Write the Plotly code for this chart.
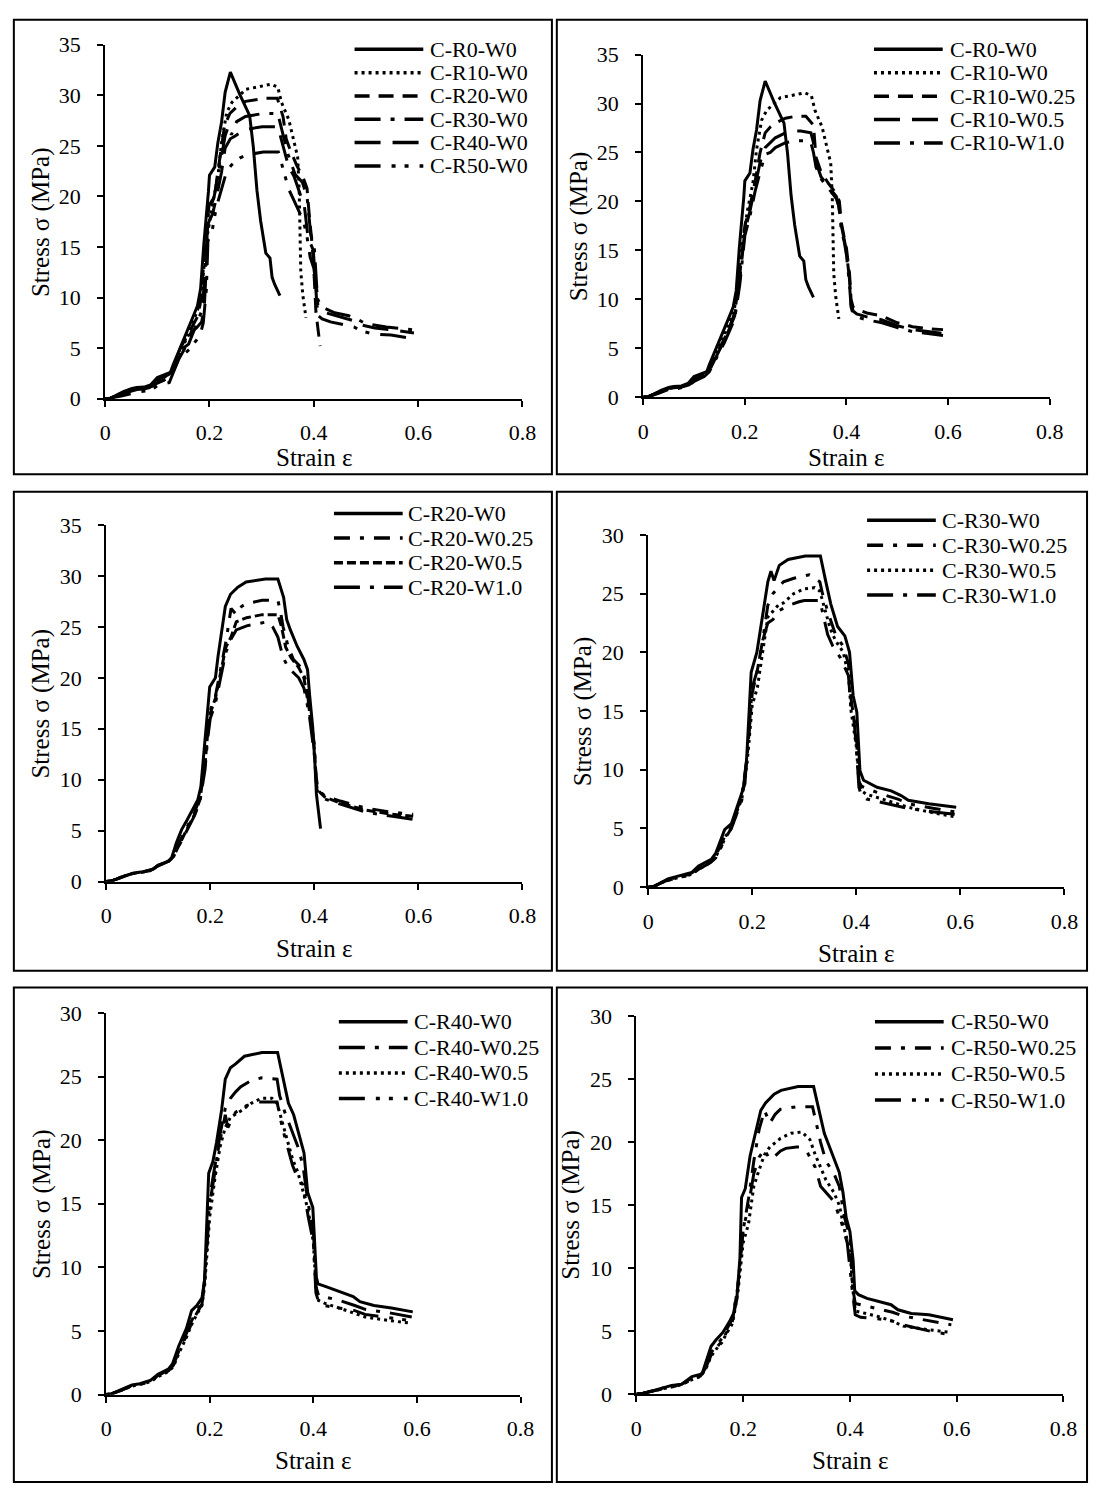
import plotly.graph_objects as go

# ---------------- data (strain, stress MPa) ----------------
R0_W0 = [(0,0),(0.01,0.05),(0.02,0.3),(0.035,0.7),(0.05,1.0),(0.06,1.1),(0.075,1.15),(0.088,1.4),(0.1,2.1),(0.115,2.4),(0.125,2.6),(0.13,3.3),(0.14,4.6),(0.15,5.9),(0.16,7.0),(0.17,8.3),(0.177,9.2),(0.183,10.9),(0.189,15.2),(0.195,18.5),(0.198,20.5),(0.2,22.1),(0.21,22.9),(0.216,25.3),(0.223,27.3),(0.23,30.3),(0.237,31.6),(0.24,32.3),(0.258,30.1),(0.277,28.0),(0.284,24.9),(0.291,20.6),(0.298,17.6),(0.308,14.4),(0.316,13.9),(0.32,12.0),(0.325,11.3),(0.335,10.2)]

R10_W0 = [(0,0),(0.01,0.05),(0.03,0.5),(0.05,0.9),(0.07,1.0),(0.09,1.3),(0.1,1.8),(0.12,2.3),(0.13,2.9),(0.14,4.2),(0.15,5.3),(0.16,6.4),(0.17,7.8),(0.18,9.2),(0.188,12.3),(0.196,16.2),(0.206,19.3),(0.216,21.9),(0.223,25.3),(0.233,28.3),(0.243,29.3),(0.257,30.0),(0.27,30.6),(0.29,30.8),(0.318,31.1),(0.331,30.8),(0.338,29.3),(0.352,27.6),(0.362,25.3),(0.369,23.9),(0.372,20.6),(0.373,15.9),(0.375,12.6),(0.379,10.2),(0.385,8.0)]

R10_W025 = [(0,0),(0.01,0.05),(0.03,0.5),(0.05,0.9),(0.07,1.0),(0.09,1.3),(0.1,1.8),(0.12,2.3),(0.13,2.8),(0.14,4.0),(0.15,5.0),(0.16,6.0),(0.17,7.2),(0.18,8.6),(0.19,12.5),(0.2,17.5),(0.21,19.5),(0.22,22.0),(0.23,25.0),(0.24,27.0),(0.25,27.6),(0.26,28.0),(0.28,28.5),(0.3,28.7),(0.32,28.7),(0.335,27.8),(0.34,24.5),(0.35,23.0),(0.365,21.8),(0.38,20.8),(0.386,20.0),(0.39,17.8),(0.396,16.2),(0.4,15.2),(0.406,12.6),(0.409,10.0),(0.413,9.2),(0.42,9.0),(0.44,8.6),(0.47,8.3),(0.5,7.6),(0.53,7.2),(0.56,7.0),(0.59,6.9)]

R10_W05 = [(0,0),(0.01,0.05),(0.03,0.45),(0.05,0.85),(0.07,0.95),(0.09,1.25),(0.1,1.7),(0.12,2.2),(0.13,2.7),(0.14,3.8),(0.15,4.8),(0.16,5.8),(0.17,7.0),(0.18,8.3),(0.19,12.0),(0.2,17.0),(0.21,19.0),(0.22,21.5),(0.23,24.0),(0.24,25.5),(0.26,26.5),(0.28,27.0),(0.3,27.2),(0.31,27.2),(0.33,27.0),(0.335,26.0),(0.34,24.0),(0.35,22.5),(0.365,21.5),(0.38,20.5),(0.385,19.5),(0.39,17.5),(0.396,16.0),(0.4,14.8),(0.406,12.0),(0.409,9.5),(0.413,8.8),(0.42,8.5),(0.44,8.2),(0.47,7.9),(0.5,7.3),(0.53,6.9),(0.56,6.7),(0.59,6.5)]

R10_W10 = [(0,0),(0.01,0.05),(0.03,0.4),(0.05,0.8),(0.07,0.9),(0.09,1.2),(0.1,1.6),(0.12,2.1),(0.13,2.6),(0.14,3.6),(0.15,4.6),(0.16,5.6),(0.17,6.8),(0.18,8.0),(0.19,11.5),(0.2,16.5),(0.21,18.5),(0.22,21.0),(0.23,23.0),(0.24,24.8),(0.25,25.0),(0.26,25.5),(0.28,26.0),(0.3,26.2),(0.32,26.2),(0.33,26.0),(0.335,25.0),(0.34,23.5),(0.35,22.3),(0.365,21.3),(0.38,20.3),(0.385,19.5),(0.39,17.0),(0.396,15.8),(0.4,14.5),(0.406,11.5),(0.409,9.2),(0.413,8.5),(0.42,8.2),(0.44,7.9),(0.47,7.6),(0.5,7.1),(0.53,6.7),(0.56,6.5),(0.59,6.3)]

R20_W0 = [(0,0),(0.01,0.05),(0.037,0.58),(0.061,0.9),(0.084,1.06),(0.098,1.5),(0.116,1.9),(0.125,2.2),(0.135,3.8),(0.145,5.1),(0.155,6.0),(0.165,7.0),(0.176,8.0),(0.182,9.3),(0.19,13.8),(0.195,16.7),(0.199,19.1),(0.21,20.0),(0.215,22.1),(0.229,27.0),(0.239,28.2),(0.253,28.9),(0.269,29.4),(0.306,29.7),(0.33,29.7),(0.341,27.9),(0.347,25.7),(0.354,24.7),(0.367,23.1),(0.38,21.8),(0.387,20.8),(0.391,18.3),(0.397,15.1),(0.401,11.8),(0.404,8.6),(0.412,5.2)]

R20_W025 = [(0,0),(0.01,0.05),(0.03,0.45),(0.05,0.8),(0.07,0.95),(0.09,1.2),(0.1,1.6),(0.12,2.0),(0.13,2.6),(0.14,3.8),(0.15,4.8),(0.16,5.8),(0.17,6.8),(0.18,8.2),(0.19,12.0),(0.195,15.0),(0.2,16.8),(0.21,18.2),(0.22,20.8),(0.23,23.5),(0.24,26.8),(0.25,26.2),(0.26,27.0),(0.27,27.3),(0.3,27.6),(0.33,27.6),(0.335,26.5),(0.34,25.0),(0.35,23.0),(0.36,21.8),(0.375,21.0),(0.385,19.5),(0.39,17.0),(0.395,15.0),(0.4,13.5),(0.403,10.5),(0.407,9.0),(0.41,8.9),(0.42,8.4),(0.45,7.9),(0.47,7.6),(0.5,7.2),(0.55,6.8),(0.59,6.6)]

R20_W05 = [(0,0),(0.01,0.05),(0.03,0.45),(0.05,0.8),(0.07,0.95),(0.09,1.2),(0.1,1.6),(0.12,2.0),(0.13,2.5),(0.14,3.6),(0.15,4.6),(0.16,5.6),(0.17,6.6),(0.18,8.0),(0.19,11.5),(0.195,14.5),(0.2,16.5),(0.21,18.0),(0.22,20.5),(0.23,23.0),(0.24,24.0),(0.25,25.5),(0.27,25.9),(0.3,26.2),(0.33,26.2),(0.337,25.0),(0.345,23.0),(0.355,22.0),(0.37,21.0),(0.38,20.0),(0.39,17.0),(0.4,13.0),(0.405,9.0),(0.41,8.8),(0.42,8.3),(0.45,7.7),(0.5,7.0),(0.55,6.6),(0.59,6.4)]

R20_W10 = [(0,0),(0.01,0.05),(0.03,0.4),(0.05,0.8),(0.07,0.9),(0.09,1.2),(0.1,1.6),(0.12,2.0),(0.13,2.5),(0.14,3.5),(0.15,4.5),(0.16,5.4),(0.17,6.5),(0.18,7.8),(0.19,11.0),(0.195,14.0),(0.2,16.0),(0.21,17.5),(0.22,20.0),(0.23,22.5),(0.24,23.8),(0.25,24.7),(0.27,25.1),(0.3,25.4),(0.31,25.5),(0.32,25.0),(0.33,24.0),(0.34,22.0),(0.35,21.0),(0.36,20.5),(0.37,20.0),(0.38,19.0),(0.39,16.5),(0.4,12.5),(0.405,9.0),(0.41,8.5),(0.42,8.1),(0.45,7.6),(0.5,6.8),(0.55,6.4),(0.59,6.1)]

R30_W0 = [(0,0),(0.011,0.05),(0.038,0.7),(0.064,0.98),(0.084,1.26),(0.097,1.8),(0.122,2.4),(0.13,2.9),(0.147,4.9),(0.16,5.4),(0.173,7.1),(0.182,8.2),(0.186,8.8),(0.19,11.5),(0.194,14.5),(0.198,18.3),(0.209,20.0),(0.219,22.7),(0.23,26.0),(0.236,26.9),(0.242,26.1),(0.252,27.4),(0.269,27.9),(0.302,28.2),(0.331,28.2),(0.341,26.1),(0.351,24.1),(0.364,22.2),(0.378,21.4),(0.387,20.0),(0.394,16.3),(0.401,14.9),(0.407,9.9),(0.414,9.1),(0.427,8.8),(0.44,8.5),(0.467,8.2),(0.486,7.8),(0.5,7.4),(0.539,7.1),(0.592,6.8)]

R30_W025 = [(0,0),(0.01,0.05),(0.035,0.6),(0.06,0.9),(0.08,1.1),(0.1,1.7),(0.12,2.2),(0.13,2.7),(0.14,3.6),(0.15,4.6),(0.16,5.2),(0.17,6.6),(0.18,7.8),(0.19,11.0),(0.2,16.5),(0.21,18.5),(0.22,21.0),(0.23,24.0),(0.24,25.0),(0.25,25.5),(0.26,26.0),(0.28,26.3),(0.31,26.6),(0.33,26.0),(0.335,25.0),(0.345,23.5),(0.36,21.5),(0.375,20.5),(0.385,19.0),(0.39,16.0),(0.395,14.5),(0.4,13.0),(0.405,9.0),(0.41,8.6),(0.42,8.4),(0.45,7.9),(0.48,7.5),(0.5,7.1),(0.55,6.7),(0.59,6.4)]

R30_W05 = [(0,0),(0.01,0.05),(0.035,0.55),(0.06,0.85),(0.08,1.05),(0.1,1.6),(0.12,2.1),(0.13,2.6),(0.14,3.4),(0.15,4.4),(0.16,5.0),(0.17,6.4),(0.18,7.5),(0.19,10.5),(0.2,15.5),(0.21,17.0),(0.22,20.0),(0.23,23.0),(0.24,23.5),(0.25,24.0),(0.26,24.2),(0.28,25.0),(0.3,25.4),(0.32,25.5),(0.33,25.2),(0.34,23.5),(0.35,22.0),(0.36,21.0),(0.375,20.0),(0.385,18.0),(0.39,15.0),(0.4,12.0),(0.405,9.0),(0.41,8.2),(0.42,7.9),(0.45,7.5),(0.48,7.1),(0.5,6.8),(0.55,6.3),(0.59,6.0)]

R30_W10 = [(0,0),(0.01,0.05),(0.035,0.55),(0.06,0.85),(0.08,1.0),(0.1,1.6),(0.12,2.1),(0.13,2.5),(0.14,3.4),(0.15,4.3),(0.16,5.0),(0.17,6.3),(0.18,7.4),(0.19,11.0),(0.2,17.0),(0.21,18.5),(0.22,21.0),(0.23,22.5),(0.24,22.8),(0.25,23.5),(0.27,24.0),(0.29,24.3),(0.3,24.4),(0.33,24.4),(0.335,23.5),(0.345,21.5),(0.355,20.5),(0.37,19.5),(0.385,18.0),(0.39,15.0),(0.395,14.5),(0.4,12.0),(0.405,8.5),(0.41,7.8),(0.42,7.5),(0.45,7.2),(0.48,6.9),(0.5,6.7),(0.55,6.4),(0.59,6.2)]

R40_W0 = [(0,0),(0.01,0.05),(0.03,0.4),(0.05,0.75),(0.065,0.85),(0.085,1.1),(0.1,1.6),(0.12,2.0),(0.128,2.4),(0.14,3.8),(0.155,5.2),(0.165,6.6),(0.175,7.0),(0.185,7.6),(0.19,9.0),(0.193,12.8),(0.198,17.4),(0.206,18.3),(0.213,19.8),(0.223,22.4),(0.23,24.8),(0.24,25.7),(0.25,26.0),(0.267,26.6),(0.301,26.9),(0.331,26.9),(0.341,25.0),(0.352,22.9),(0.362,22.0),(0.372,20.6),(0.382,19.0),(0.389,15.9),(0.399,14.7),(0.406,9.2),(0.409,8.7),(0.423,8.5),(0.443,8.2),(0.463,7.9),(0.477,7.7),(0.49,7.3),(0.517,7.0),(0.551,6.8),(0.592,6.5)]

R40_W025 = [(0,0),(0.01,0.05),(0.03,0.35),(0.05,0.7),(0.065,0.8),(0.085,1.05),(0.1,1.5),(0.12,1.9),(0.13,2.4),(0.14,3.5),(0.155,4.8),(0.165,5.8),(0.175,6.6),(0.185,7.2),(0.19,9.0),(0.2,15.0),(0.21,17.5),(0.22,20.5),(0.23,22.5),(0.24,23.3),(0.25,23.8),(0.26,24.2),(0.28,24.7),(0.3,24.9),(0.33,24.8),(0.335,23.5),(0.345,22.2),(0.36,20.5),(0.37,19.5),(0.38,18.0),(0.39,15.0),(0.4,13.0),(0.405,8.5),(0.41,7.8),(0.42,7.7),(0.45,7.4),(0.48,7.0),(0.5,6.7),(0.55,6.4),(0.59,6.1)]

R40_W05 = [(0,0),(0.01,0.05),(0.03,0.35),(0.05,0.65),(0.065,0.8),(0.085,1.0),(0.1,1.4),(0.12,1.8),(0.13,2.2),(0.14,3.2),(0.155,4.5),(0.165,5.5),(0.175,6.3),(0.185,7.0),(0.19,8.5),(0.2,14.0),(0.21,17.0),(0.22,19.5),(0.23,21.0),(0.24,21.8),(0.26,22.3),(0.28,22.9),(0.3,23.3),(0.32,23.3),(0.33,22.9),(0.34,21.5),(0.35,20.0),(0.36,18.5),(0.37,17.5),(0.38,16.0),(0.39,14.5),(0.4,12.0),(0.405,8.5),(0.41,7.4),(0.42,7.2),(0.45,6.8),(0.48,6.4),(0.5,6.1),(0.55,5.8),(0.59,5.6)]

R40_W10 = [(0,0),(0.01,0.05),(0.03,0.35),(0.05,0.7),(0.065,0.8),(0.085,1.0),(0.1,1.5),(0.12,1.85),(0.13,2.3),(0.14,3.4),(0.155,4.6),(0.165,5.6),(0.175,6.4),(0.185,7.1),(0.19,8.8),(0.2,15.5),(0.21,18.0),(0.22,20.0),(0.23,22.0),(0.235,21.0),(0.25,22.2),(0.27,22.7),(0.29,23.0),(0.33,23.0),(0.34,21.0),(0.35,19.5),(0.36,18.0),(0.37,17.0),(0.38,16.5),(0.39,14.0),(0.4,12.0),(0.405,8.0),(0.41,7.3),(0.42,7.0),(0.45,6.8),(0.48,6.6),(0.5,6.3),(0.55,6.0),(0.59,5.8)]

R50_W0 = [(0,0),(0.01,0.05),(0.033,0.3),(0.055,0.6),(0.066,0.7),(0.085,0.8),(0.095,1.1),(0.104,1.4),(0.123,1.6),(0.13,2.5),(0.14,3.8),(0.149,4.3),(0.162,4.9),(0.175,5.8),(0.183,6.5),(0.188,7.5),(0.194,10.8),(0.197,15.6),(0.204,16.3),(0.213,18.9),(0.223,20.7),(0.233,22.5),(0.242,23.1),(0.258,23.8),(0.271,24.1),(0.303,24.4),(0.332,24.4),(0.342,22.5),(0.352,20.7),(0.361,19.7),(0.371,18.6),(0.38,17.6),(0.387,16.0),(0.393,14.0),(0.4,12.9),(0.406,10.6),(0.409,8.2),(0.416,7.9),(0.432,7.6),(0.458,7.3),(0.477,7.1),(0.49,6.7),(0.515,6.4),(0.548,6.3),(0.593,5.9)]

R50_W025 = [(0,0),(0.01,0.05),(0.033,0.3),(0.055,0.55),(0.07,0.65),(0.085,0.8),(0.1,1.2),(0.12,1.5),(0.13,2.2),(0.14,3.3),(0.15,3.9),(0.16,4.4),(0.17,5.2),(0.18,6.0),(0.19,8.5),(0.2,13.0),(0.21,15.5),(0.22,18.5),(0.23,21.0),(0.24,22.5),(0.25,21.5),(0.26,22.2),(0.27,22.6),(0.3,22.8),(0.33,22.8),(0.335,21.8),(0.345,20.0),(0.355,18.5),(0.37,17.5),(0.38,16.5),(0.39,14.0),(0.4,12.5),(0.405,8.5),(0.41,7.2),(0.42,7.1),(0.45,6.8),(0.48,6.5),(0.5,6.2),(0.55,5.8),(0.59,5.5)]

R50_W05 = [(0,0),(0.01,0.05),(0.033,0.28),(0.055,0.5),(0.07,0.6),(0.085,0.75),(0.1,1.1),(0.12,1.4),(0.13,2.0),(0.14,3.0),(0.15,3.6),(0.16,4.1),(0.17,4.9),(0.18,5.6),(0.19,8.0),(0.2,12.0),(0.21,13.5),(0.22,16.5),(0.23,17.8),(0.24,19.0),(0.25,19.6),(0.27,20.3),(0.29,20.7),(0.31,20.8),(0.325,20.2),(0.335,19.0),(0.345,18.0),(0.355,17.0),(0.37,16.0),(0.38,15.0),(0.39,13.0),(0.4,11.5),(0.405,8.5),(0.41,6.6),(0.42,6.5),(0.45,6.2),(0.48,5.8),(0.5,5.4),(0.55,5.1),(0.59,4.9)]

R50_W10 = [(0,0),(0.01,0.05),(0.033,0.28),(0.055,0.5),(0.07,0.6),(0.085,0.75),(0.1,1.1),(0.12,1.45),(0.13,2.1),(0.14,3.1),(0.15,3.7),(0.16,4.2),(0.17,5.0),(0.18,5.8),(0.19,8.5),(0.2,13.0),(0.21,15.0),(0.22,17.5),(0.23,18.8),(0.24,19.4),(0.25,18.6),(0.26,18.9),(0.27,19.3),(0.28,19.5),(0.3,19.6),(0.31,19.6),(0.32,19.2),(0.335,18.0),(0.345,16.5),(0.36,15.8),(0.37,15.3),(0.385,13.5),(0.395,12.0),(0.405,8.0),(0.41,6.3),(0.42,6.1),(0.45,6.0),(0.48,5.8),(0.5,5.5),(0.55,5.0),(0.59,4.7)]

X_TICKS = [0, 0.2, 0.4, 0.6, 0.8]
X_TICK_TEXT = ["0", "0.2", "0.4", "0.6", "0.8"]
X_TITLE = "Strain ε"
Y_TITLE = "Stress σ (MPa)"

# ---------------- styles ----------------
SOLID = "solid"
DOT = "3px,4px"
DASH = "15px,9px"
SHORTDASH = "9px,4px"
LONGDASH = "26px,12px"
DASHDOT = "16px,10px,4px,10px"
LDASHDOT = "26px,10px,4px,10px"
LDASHDOTDOT = "26px,11px,4px,9px,4px,11px"

FONT = "Liberation Serif, Times New Roman, serif"
TICK_SIZE = 22
LEG_SIZE = 22
TITLE_SIZE = 25
W, H = 1103, 1498

# panel: series (label, data, dash), y max, plot box in px (x0, x1, ytop, ybottom),
# legend (sample x0, x1, text x, first row y, row step), x-title offset
PANELS = [
    dict(series=[("C-R0-W0", R0_W0, SOLID), ("C-R10-W0", R10_W0, DOT), ("C-R20-W0", R20_W0, DASH),
                 ("C-R30-W0", R30_W0, LDASHDOT), ("C-R40-W0", R40_W0, LONGDASH), ("C-R50-W0", R50_W0, LDASHDOTDOT)],
         ymax=35, box=(101, 526, 33.3, 393.3), leg=(355, 425, 430, 38, 23.7), xt=60),
    dict(series=[("C-R0-W0", R0_W0, SOLID), ("C-R10-W0", R10_W0, DOT), ("C-R10-W0.25", R10_W025, DASH),
                 ("C-R10-W0.5", R10_W05, LONGDASH), ("C-R10-W1.0", R10_W10, LDASHDOT)],
         ymax=35, box=(649, 1063, 43.3, 391.7), leg=(884, 954, 959, 38, 23.8), xt=61),
    dict(series=[("C-R20-W0", R20_W0, SOLID), ("C-R20-W0.25", R20_W025, DASHDOT), ("C-R20-W0.5", R20_W05, SHORTDASH),
                 ("C-R20-W1.0", R20_W10, LDASHDOT)],
         ymax=35, box=(102, 526, 521.7, 884.3), leg=(334, 404, 407, 510, 25), xt=68),
    dict(series=[("C-R30-W0", R30_W0, SOLID), ("C-R30-W0.25", R30_W025, DASHDOT), ("C-R30-W0.5", R30_W05, DOT),
                 ("C-R30-W1.0", R30_W10, LDASHDOT)],
         ymax=30, box=(654, 1078, 531.7, 890), leg=(877, 947, 951, 517, 25.3), xt=67),
    dict(series=[("C-R40-W0", R40_W0, SOLID), ("C-R40-W0.25", R40_W025, LDASHDOT), ("C-R40-W0.5", R40_W05, DOT),
                 ("C-R40-W1.0", R40_W10, LDASHDOTDOT)],
         ymax=30, box=(102, 524, 1018, 1406), leg=(339, 409, 413, 1027, 26), xt=67),
    dict(series=[("C-R50-W0", R50_W0, SOLID), ("C-R50-W0.25", R50_W025, DASHDOT), ("C-R50-W0.5", R50_W05, DOT),
                 ("C-R50-W1.0", R50_W10, LDASHDOTDOT)],
         ymax=30, box=(642, 1077, 1021, 1405.7), leg=(885, 955, 960, 1027, 26.5), xt=67),
]

BORDERS_X = [(8, 556), (561, 1101)]
BORDERS_Y = [(8, 470), (488, 975), (992, 1495)]


def px(x):
    return x / W


def py(y):
    return 1 - y / H


fig = go.Figure()
shapes = []
annotations = []
layout = {}

for i, p in enumerate(PANELS):
    n = i + 1
    xa = "x" if n == 1 else f"x{n}"
    ya = "y" if n == 1 else f"y{n}"
    x0, x1, yt, yb = p["box"]
    for label, data, dash in p["series"]:
        xs = [d[0] for d in data]
        ys = [d[1] for d in data]
        fig.add_trace(go.Scatter(x=xs, y=ys, mode="lines", name=label, showlegend=False,
                                 line=dict(color="black", width=3, dash=dash),
                                 xaxis=xa, yaxis=ya))
    axis_common = dict(showline=True, linecolor="black", linewidth=2, ticks="outside",
                       ticklen=6, tickwidth=1.5, tickcolor="black", showgrid=False, zeroline=False,
                       tickfont=dict(family=FONT, size=TICK_SIZE, color="black"), fixedrange=True)
    layout["xaxis" if n == 1 else f"xaxis{n}"] = dict(
        domain=[px(x0), px(x1)], anchor=ya, range=[0, 0.8], tickvals=X_TICKS, ticktext=X_TICK_TEXT,
        ticklabelstandoff=7, **axis_common)
    layout["yaxis" if n == 1 else f"yaxis{n}"] = dict(
        domain=[py(yb), py(yt)], anchor=xa, range=[0, p["ymax"]], tick0=0, dtick=5,
        ticklabelstandoff=12, **axis_common)
    # axis titles
    annotations.append(dict(text=X_TITLE, x=px((x0 + x1) / 2), y=py(yb + p["xt"]), xref="paper", yref="paper",
                            xanchor="center", yanchor="middle", showarrow=False,
                            font=dict(family=FONT, size=TITLE_SIZE, color="black")))
    annotations.append(dict(text=Y_TITLE, x=px(x0 - 66), y=py((yt + yb) / 2), xref="paper", yref="paper",
                            xanchor="center", yanchor="middle", showarrow=False, textangle=-90,
                            font=dict(family=FONT, size=TITLE_SIZE, color="black")))
    # legend
    lx0, lx1, tx, ly, step = p["leg"]
    for k, (label, data, dash) in enumerate(p["series"]):
        yy = py(ly + k * step)
        shapes.append(dict(type="line", xref="paper", yref="paper", x0=px(lx0), x1=px(lx1), y0=yy, y1=yy,
                           line=dict(color="black", width=3.5, dash=dash)))
        annotations.append(dict(text=label, x=px(tx), y=yy, xref="paper", yref="paper",
                                xanchor="left", yanchor="middle", showarrow=False,
                                font=dict(family=FONT, size=LEG_SIZE, color="black")))

for bx0, bx1 in BORDERS_X:
    for by0, by1 in BORDERS_Y:
        shapes.append(dict(type="rect", xref="paper", yref="paper", x0=px(bx0), x1=px(bx1),
                           y0=py(by1), y1=py(by0), line=dict(color="black", width=2), fillcolor="rgba(0,0,0,0)"))

fig.update_layout(width=W, height=H, margin=dict(l=0, r=0, t=0, b=0), paper_bgcolor="white",
                  plot_bgcolor="white", showlegend=False, shapes=shapes, annotations=annotations,
                  font=dict(family=FONT, color="black"), **layout)

fig.write_html("out.html", config={"displayModeBar": False})
